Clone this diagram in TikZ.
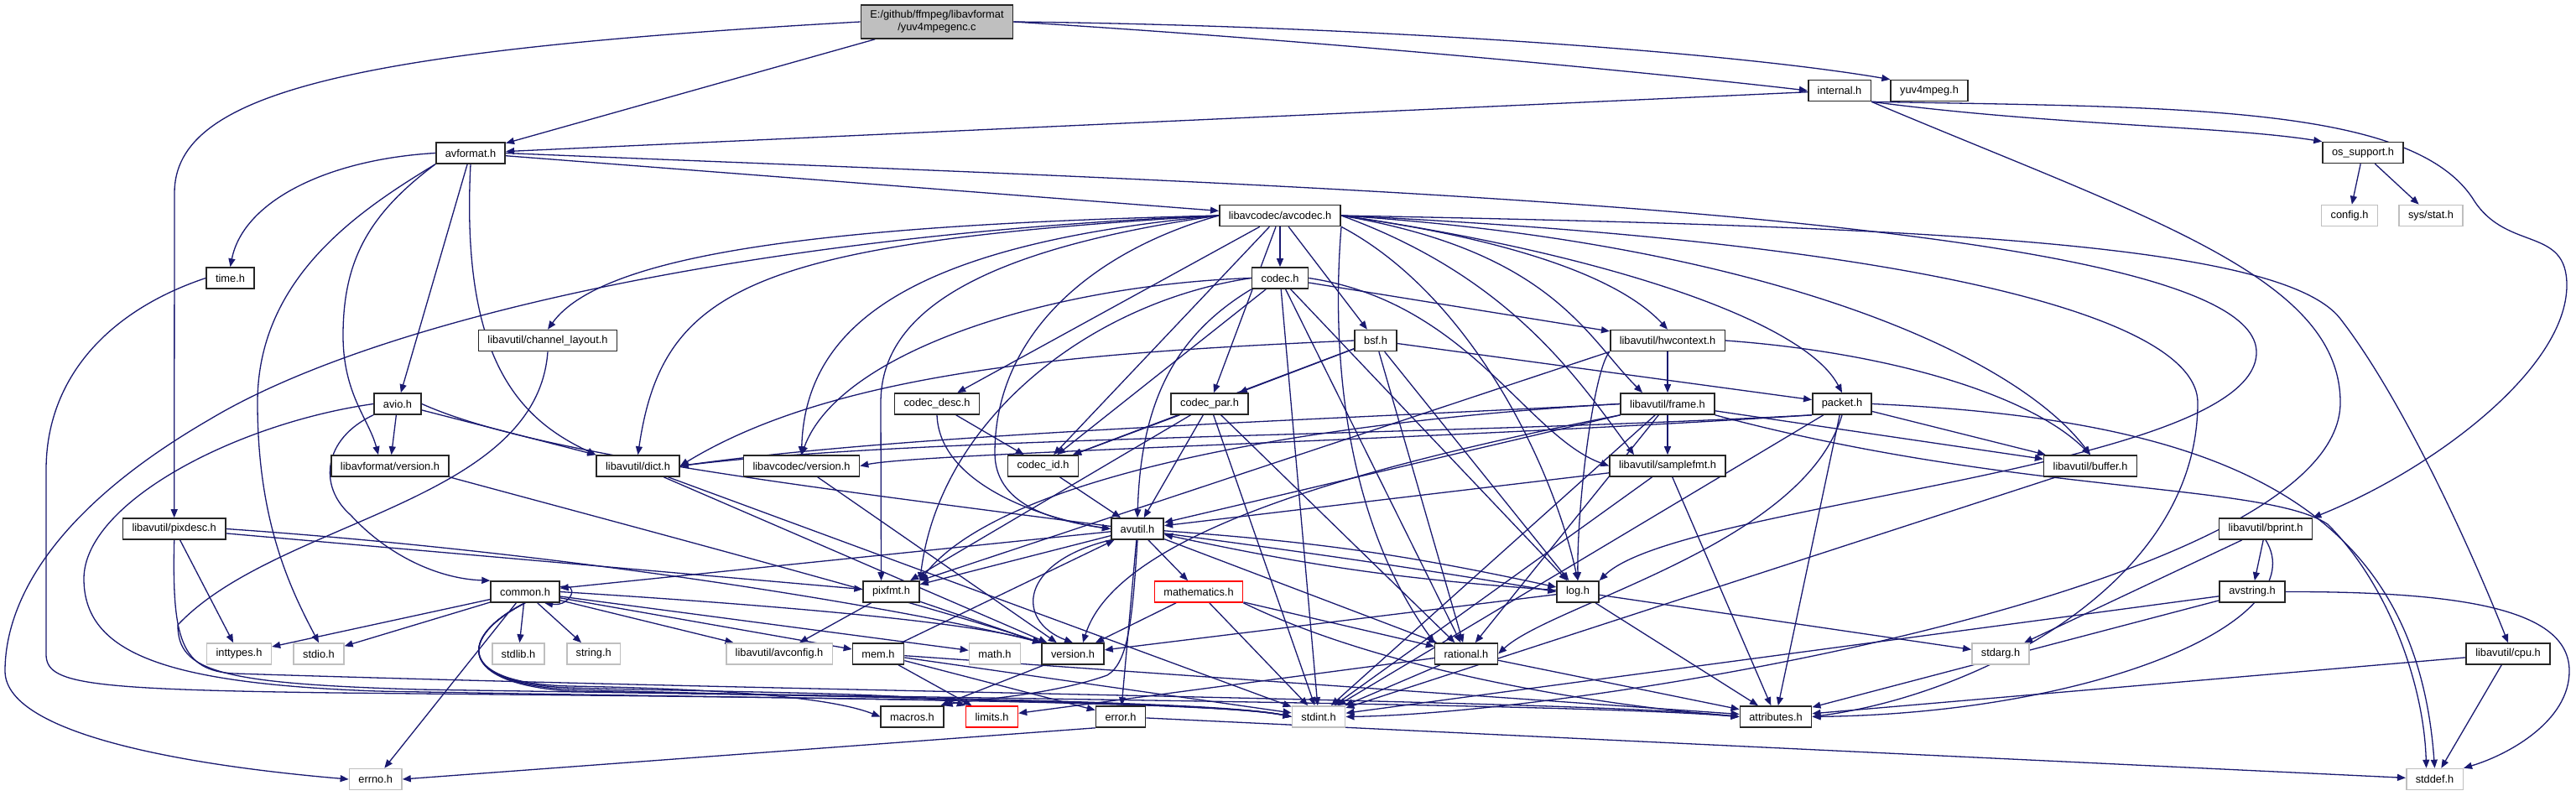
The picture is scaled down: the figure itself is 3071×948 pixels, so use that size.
\documentclass[tikz,border=0pt]{standalone}
\usepackage{fontspec}
\setmainfont{Liberation Sans}
\usepackage{tikz}
\usetikzlibrary{arrows.meta,backgrounds}

\definecolor{edgeblue}{RGB}{25,25,112}
\definecolor{sysgray}{RGB}{191,191,191}
\newcommand{\hdrfont}{\fontsize{6.4}{7.5}\selectfont}

\begin{document}
\begin{tikzpicture}[x=0.5pt, y=-0.5pt,
  hdr/.style={rectangle, draw=black!85, line width=0.8pt, fill=white,
              minimum height=12.5pt, inner xsep=5.5pt, inner ysep=1pt,
              font=\hdrfont},
  sys/.style={hdr, draw=sysgray},
  trunc/.style={hdr, draw=red},
  srcfile/.style={hdr, fill=sysgray, align=center, minimum height=20pt},
  inc/.style={-{Triangle[length=5pt,width=4pt]}, draw=edgeblue, line width=0.65pt}
]
  \useasboundingbox (0,0) rectangle (3071,948);

  % Nodes
  \node[srcfile] (root) at (1117,26) {E:/github/ffmpeg/libavformat\\/yuv4mpegenc.c};
  \node[hdr] (internal) at (2193,108) {internal.h};
  \node[hdr] (yuvmpeg) at (2300,108) {yuv4mpeg.h};
  \node[hdr] (avformat) at (561,182.5) {avformat.h};
  \node[hdr] (ossupport) at (2817,182) {os\_support.h};
  \node[hdr] (avcodec) at (1526,257) {libavcodec/avcodec.h};
  \node[sys] (config) at (2801,257) {config.h};
  \node[sys] (sysstat) at (2898,257) {sys/stat.h};
  \node[hdr] (timeh) at (274.5,331.5) {time.h};
  \node[hdr] (codec) at (1526,331.5) {codec.h};
  \node[hdr] (chlayout) at (653,406) {libavutil/channel\_layout.h};
  \node[hdr] (bsf) at (1640,406) {bsf.h};
  \node[hdr] (hwctx) at (1988,406) {libavutil/hwcontext.h};
  \node[hdr] (avio) at (474,481.5) {avio.h};
  \node[hdr] (codecdesc) at (1117,481.5) {codec\_desc.h};
  \node[hdr] (codecpar) at (1442,481.5) {codec\_par.h};
  \node[hdr] (frame) at (1988,481.5) {libavutil/frame.h};
  \node[hdr] (packet) at (2196,481.5) {packet.h};
  \node[hdr] (lavfversion) at (465,555.5) {libavformat/version.h};
  \node[hdr] (dict) at (760.5,555.5) {libavutil/dict.h};
  \node[hdr] (lavcversion) at (955.5,555.5) {libavcodec/version.h};
  \node[hdr] (codecid) at (1243.5,555.5) {codec\_id.h};
  \node[hdr] (samplefmt) at (1988,555.5) {libavutil/samplefmt.h};
  \node[hdr] (buffer) at (2492,555.5) {libavutil/buffer.h};
  \node[hdr] (pixdesc) at (207.7,630.5) {libavutil/pixdesc.h};
  \node[hdr] (avutil) at (1356,630.5) {avutil.h};
  \node[hdr] (bprint) at (2701,630.5) {libavutil/bprint.h};
  \node[hdr] (common) at (626,705.5) {common.h};
  \node[hdr] (pixfmt) at (1062.5,705.5) {pixfmt.h};
  \node[trunc] (mathematics) at (1429,705.5) {mathematics.h};
  \node[hdr] (logh) at (1881,705.5) {log.h};
  \node[hdr] (avstring) at (2685,705.5) {avstring.h};
  \node[sys] (inttypes) at (285,779.5) {inttypes.h};
  \node[sys] (stdioh) at (380,779.5) {stdio.h};
  \node[sys] (stdlibh) at (618,779.5) {stdlib.h};
  \node[sys] (stringh) at (707.7,779.5) {string.h};
  \node[sys] (avconfig) at (929,779.5) {libavutil/avconfig.h};
  \node[hdr] (mem) at (1047,779.5) {mem.h};
  \node[sys] (mathh) at (1186,779.5) {math.h};
  \node[hdr] (version) at (1279,779.5) {version.h};
  \node[hdr] (rational) at (1748,779.5) {rational.h};
  \node[sys] (stdargh) at (2385,779.5) {stdarg.h};
  \node[hdr] (cpu) at (2990,779.5) {libavutil/cpu.h};
  \node[hdr] (macros) at (1087.5,854.5) {macros.h};
  \node[trunc] (limits) at (1182.5,854.5) {limits.h};
  \node[hdr] (errorh) at (1336,854.5) {error.h};
  \node[sys] (stdint) at (1572,854.5) {stdint.h};
  \node[hdr] (attributes) at (2117,854.5) {attributes.h};
  \node[sys] (errnoh) at (447.7,929) {errno.h};
  \node[sys] (stddef) at (2902.5,929) {stddef.h};

  \begin{scope}[on background layer]
  \fill[white] (0,0) rectangle (3071,948);

  % yuv4mpegenc.c
  \draw[inc] (root) -- (avformat);
  \draw[inc] (root.east) .. controls (1600,50) and (2000,90) .. (internal.west);
  \draw[inc] (root.east) .. controls (1600,30) and (2050,60) .. (yuvmpeg.north west);
  \draw[inc] (root.west) .. controls (420,60) and (208,110) .. (208,230) -- (pixdesc.north);

  % internal.h
  \draw[inc] (internal) -- (avformat);
  \draw[inc] (internal.south east) .. controls (2450,150) and (2650,150) .. (ossupport.north west);
  \draw[inc] (internal.south east) .. controls (2600,128) and (2880,125) .. (2950,240) .. controls (2990,300) and (3060,270) .. (3060,340) .. controls (3060,440) and (2900,560) .. (bprint.north east);
  \draw[inc] (internal.south east) .. controls (2560,260) and (2790,330) .. (2790,480) .. controls (2790,700) and (1900,850) .. (stdint.east);

  % avformat.h
  \draw[inc] (avformat.west) .. controls (390,190) and (290,240) .. (timeh.north);
  \draw[inc] (avformat.south west) .. controls (430,250) and (307,330) .. (307,480) .. controls (307,620) and (345,700) .. (stdioh.north);
  \draw[inc] (avformat.south west) .. controls (440,255) and (409,310) .. (409,400) .. controls (409,470) and (440,500) .. ([xshift=-7pt]lavfversion.north);
  \draw[inc] (avformat) -- (avio);
  \draw[inc] (avformat.south) .. controls (549,430) and (620,500) .. (dict.north west);
  \draw[inc] (avformat) -- (avcodec);
  \draw[inc] (avformat.east) .. controls (1500,220) and (2690,250) .. (2690,420) .. controls (2690,560) and (2000,600) .. (logh.north east);

  % os_support.h
  \draw[inc] (ossupport) -- (config);
  \draw[inc] (ossupport) -- (sysstat);

  % libavcodec/avcodec.h
  \draw[inc] (avcodec) -- (codec);
  \draw[inc] (avcodec.west) .. controls (900,280) and (450,380) .. (250,500) .. controls (60,610) and (6,720) .. (6,800) .. controls (6,880) and (250,915) .. (errnoh.west);
  \draw[inc] (avcodec.west) .. controls (1000,268) and (720,300) .. (chlayout.north);
  \draw[inc] (avcodec.west) .. controls (900,290) and (790,340) .. (dict.north);
  \draw[inc] (avcodec.west) .. controls (1100,290) and (960,380) .. (lavcversion.north);
  \draw[inc] (avcodec.west) .. controls (1150,300) and (1050,380) .. (1050,480) -- ([xshift=-6pt]pixfmt.north);
  \draw[inc] (avcodec.west) .. controls (1300,300) and (1186,400) .. (1186,540) .. controls (1186,600) and (1250,620) .. (avutil.west);
  \draw[inc] (avcodec) -- (codecdesc);
  \draw[inc] (avcodec) -- (codecid);
  \draw[inc] (avcodec) -- (codecpar);
  \draw[inc] (avcodec) -- (bsf);
  \draw[inc] (avcodec.east) .. controls (1800,285) and (1930,330) .. (hwctx.north);
  \draw[inc] (avcodec.east) .. controls (1850,300) and (1890,400) .. ([xshift=-15pt]frame.north);
  \draw[inc] (avcodec.east) .. controls (1800,330) and (1880,450) .. ([xshift=-20pt]samplefmt.north);
  \draw[inc] (avcodec.east) .. controls (2100,290) and (2400,420) .. (buffer.north);
  \draw[inc] (avcodec.east) .. controls (2300,270) and (2720,290) .. (2790,380) .. controls (2860,470) and (2940,640) .. (cpu.north);
  \draw[inc] (avcodec.south east) .. controls (1750,350) and (1850,550) .. (logh.north);
  \draw[inc] (avcodec.south east) .. controls (1590,380) and (1590,600) .. (rational.north west);
  \draw[inc] (avcodec.east) .. controls (1900,300) and (2150,380) .. (packet.north);
  \draw[inc] (avcodec.east) .. controls (2300,290) and (2620,380) .. (2620,480) .. controls (2620,700) and (2350,830) .. (attributes.east);

  % codec.h
  \draw[inc] (codec) -- (stdint);
  \draw[inc] (codec.south west) .. controls (1400,400) and (1360,480) .. (avutil.north);
  \draw[inc] (codec) -- (hwctx);
  \draw[inc] (codec) -- (logh);
  \draw[inc] (codec.west) .. controls (1300,360) and (1120,500) .. (pixfmt.north east);
  \draw[inc] (codec) -- (rational);
  \draw[inc] (codec.east) .. controls (1750,360) and (1820,520) .. (samplefmt.west);
  \draw[inc] (codec) -- (codecid);
  \draw[inc] (codec.west) .. controls (1250,340) and (1000,420) .. (lavcversion.north);

  % bsf.h
  \draw[inc] (bsf.west) .. controls (1300,420) and (1000,440) .. (dict.east);
  \draw[inc] (bsf) -- (logh);
  \draw[inc] (bsf) -- (rational);
  \draw[inc] (bsf) -- (codecid);
  \draw[inc] (bsf) -- (codecpar);
  \draw[inc] (bsf) -- (packet);

  % libavutil/hwcontext.h
  \draw[inc] (hwctx.east) .. controls (2250,420) and (2420,470) .. (buffer.north);
  \draw[inc] (hwctx) -- (frame);
  \draw[inc] (hwctx.south west) .. controls (1900,440) and (1880,600) .. (logh.north);
  \draw[inc] (hwctx.south west) -- (pixfmt.north east);

  % time.h, channel_layout.h, avio.h
  \draw[inc] (timeh.west) .. controls (130,370) and (55,450) .. (55,560) -- (55,780) .. controls (55,815) and (100,822) .. (400,826) .. controls (1000,832) and (1450,836) .. (stdint.west);
  \draw[inc] (chlayout.south) .. controls (640,600) and (330,620) .. (212,745) .. controls (212,800) and (260,815) .. (500,822) .. controls (1000,830) and (1450,835) .. (stdint.west);
  \draw[inc] (avio) -- (lavfversion);
  \draw[inc] (avio.south west) .. controls (385,523) and (379,580) .. (418,614) .. controls (460,660) and (520,690) .. (common.north west);
  \draw[inc] (avio) -- (dict.north west);
  \draw[inc] (avio.east) .. controls (700,570) and (1300,610) .. (logh.west);
  \draw[inc] (avio.west) .. controls (280,505) and (100,600) .. (100,690) .. controls (100,780) and (200,815) .. (450,824) .. controls (1000,834) and (1450,836) .. (stdint.west);

  % codec_desc.h, codec_par.h
  \draw[inc] (codecdesc.south) .. controls (1120,580) and (1250,620) .. (avutil.west);
  \draw[inc] (codecdesc) -- (codecid);
  \draw[inc] (codecpar) -- (stdint);
  \draw[inc] (codecpar) -- (avutil);
  \draw[inc] (codecpar) -- (rational);
  \draw[inc] (codecpar) -- (pixfmt);
  \draw[inc] (codecpar) -- (codecid);

  % libavutil/frame.h
  \draw[inc] (frame.south east) .. controls (2400,590) and (2700,575) .. (2775,625) .. controls (2850,700) and (2890,820) .. ([xshift=-5pt]stddef.north);
  \draw[inc] (frame) -- (stdint);
  \draw[inc] (frame) -- (avutil);
  \draw[inc] (frame) -- (buffer);
  \draw[inc] (frame.west) .. controls (1600,500) and (1100,515) .. (dict.east);
  \draw[inc] (frame) -- (rational);
  \draw[inc] (frame) -- (samplefmt);
  \draw[inc] (frame.west) .. controls (1600,500) and (1200,560) .. (pixfmt.north east);
  \draw[inc] (frame.south west) .. controls (1600,560) and (1330,640) .. ([xshift=6pt]version.north);

  % packet.h
  \draw[inc] (packet.east) .. controls (2650,500) and (2880,600) .. (stddef.north);
  \draw[inc] (packet) -- (stdint);
  \draw[inc] (packet) -- (attributes);
  \draw[inc] (packet) -- (buffer);
  \draw[inc] (packet.south west) .. controls (1700,520) and (1100,520) .. (dict.east);
  \draw[inc] (packet.south) .. controls (2150,650) and (1850,720) .. (rational.east);
  \draw[inc] (packet.south west) .. controls (1700,525) and (1100,540) .. (lavcversion.east);

  % version headers, dict.h, codec_id.h
  \draw[inc] (lavfversion.south east) .. controls (800,640) and (1100,720) .. (version.north west);
  \draw[inc] (dict) -- (stdint);
  \draw[inc] (dict) -- (version);
  \draw[inc] (lavcversion) -- (version);
  \draw[inc] (codecid) -- (avutil);

  % samplefmt.h, buffer.h
  \draw[inc] (samplefmt) -- (stdint);
  \draw[inc] (samplefmt) -- (avutil);
  \draw[inc] (samplefmt) -- (attributes);
  \draw[inc] (buffer) -- (stdint);

  % libavutil/pixdesc.h
  \draw[inc] (pixdesc) -- (inttypes);
  \draw[inc] (pixdesc.south) .. controls (205,760) and (215,800) .. (280,803) .. controls (1000,826) and (1900,835) .. (attributes.west);
  \draw[inc] (pixdesc) -- (pixfmt);
  \draw[inc] (pixdesc.east) .. controls (700,660) and (1100,730) .. (version.north west);

  % avutil.h
  \draw[inc] (avutil) -- (common);
  \draw[inc] (avutil) -- (errorh);
  \draw[inc] (avutil) -- (rational);
  \draw[inc] (avutil.south west) .. controls (1215,670) and (1210,740) .. (version.north);
  \draw[inc] (avutil.south) .. controls (1350,740) and (1345,790) .. (1320,805) .. controls (1250,830) and (1150,835) .. (macros.north east);
  \draw[inc] (avutil) -- (mathematics);
  \draw[inc] (avutil) to[bend left=4] (logh);
  \draw[inc] (avutil) -- (pixfmt);

  % libavutil/bprint.h
  \draw[inc] (bprint) -- (stdargh);
  \draw[inc] (bprint.south) .. controls (2760,740) and (2500,850) .. (attributes.east);
  \draw[inc] (bprint) -- (avstring);

  % common.h
  \draw[inc] (common) -- (errnoh);
  \draw[inc] (common) -- (inttypes);
  \draw[inc] (common) -- (stdioh);
  \draw[inc] (common) -- (stdlibh);
  \draw[inc] (common) -- (stringh);
  \draw[inc] (common) -- (avconfig);
  \draw[inc] (common) -- (mem);
  \draw[inc] (common) -- (mathh);
  \draw[inc] (common.east) .. controls (900,720) and (1150,740) .. (version.north west);
  \draw[inc] (common.south) .. controls (545,760) and (545,815) .. (680,818) .. controls (900,822) and (1000,835) .. (macros.west);
  \draw[inc] (common.south) .. controls (545,760) and (545,815) .. (680,820) .. controls (900,826) and (1100,826) .. (limits.north west);
  \draw[inc] (common.south) .. controls (545,760) and (545,815) .. (680,822) .. controls (1000,832) and (1450,836) .. (stdint.west);
  \draw[inc] (common.south) .. controls (545,760) and (545,815) .. (680,824) .. controls (1300,835) and (1900,840) .. (attributes.west);
  \draw[inc] (common.8) .. controls +(25,-6) and +(32,5) .. (common.-30);

  % pixfmt.h, mathematics.h, log.h
  \draw[inc] (pixfmt) -- (avconfig);
  \draw[inc] (pixfmt) -- (version);
  \draw[inc] (mathematics) -- (version);
  \draw[inc] (mathematics) -- (stdint);
  \draw[inc] (mathematics) -- (rational);
  \draw[inc] (mathematics.south east) .. controls (1650,800) and (1900,840) .. (attributes.west);
  \draw[inc] (logh) -- (stdargh);
  \draw[inc] (logh) to[bend left=4] (avutil);
  \draw[inc] (logh) -- (attributes);
  \draw[inc] (logh) -- (version);

  % avstring.h, mem.h
  \draw[inc] (avstring.east) .. controls (2950,705) and (3063,730) .. (3063,800) .. controls (3063,860) and (2990,900) .. (stddef.north east);
  \draw[inc] (avstring) -- (stdint);
  \draw[inc] (avstring) -- (attributes);
  \draw[inc] (mem) -- (limits);
  \draw[inc] (mem) -- (stdint);
  \draw[inc] (mem) -- (attributes);
  \draw[inc] (mem) -- (errorh);
  \draw[inc] (mem) -- (avutil);

  % version.h, rational.h, cpu.h, error.h
  \draw[inc] (version) -- (macros);
  \draw[inc] (rational) -- (stdint);
  \draw[inc] (rational) -- (limits);
  \draw[inc] (rational) -- (attributes);
  \draw[inc] (cpu) -- (stddef);
  \draw[inc] (cpu) -- (attributes);
  \draw[inc] (errorh.south west) -- (errnoh.east);
  \draw[inc] (errorh) -- (stddef);
  \end{scope}
\end{tikzpicture}
\end{document}
